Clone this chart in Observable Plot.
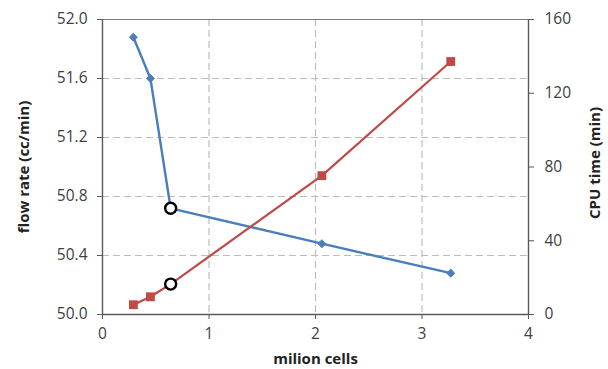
<!DOCTYPE html>
<html><head><meta charset="utf-8">
<script src="https://cdn.jsdelivr.net/npm/d3@7"></script>
<script src="https://cdn.jsdelivr.net/npm/@observablehq/plot@0.6"></script>
<style>body{margin:0;background:#fff}</style>
</head><body><div id="chart"></div>
<script>
const cells = [0.29, 0.45, 0.64, 2.06, 3.27];
const flowRate = [51.88, 51.60, 50.72, 50.48, 50.28];
const cpuTime = [5.3, 9.6, 16.5, 75.3, 137.2];
const highlightIndex = 2;
const xTicks = [0, 1, 2, 3, 4];
const flowTicks = [50.0, 50.4, 50.8, 51.2, 51.6, 52.0];
const cpuTicks = [0, 40, 80, 120, 160];
const xLabel = "milion cells";
const leftLabel = "flow rate (cc/min)";
const rightLabel = "CPU time (min)";

const flowMin = 50, flowMax = 52, cpuMax = 160;
const cpuToFlow = c => flowMin + c * (flowMax - flowMin) / cpuMax;
const flowToCpu = v => Math.round((v - flowMin) * cpuMax / (flowMax - flowMin));

const flowData = cells.map((x, i) => ({x, y: flowRate[i]}));
const cpuData = cells.map((x, i) => ({x, y: cpuToFlow(cpuTime[i])}));
const highlights = [flowData[highlightIndex], cpuData[highlightIndex]];

const blue = "#4a7ebb", red = "#be4b48", axisColor = "#595959", gridColor = "#bdbdbd";
const textColor = "#404040";

const chart = Plot.plot({
  width: 608, height: 369,
  marginLeft: 102, marginRight: 80, marginTop: 19, marginBottom: 55,
  style: {fontFamily: "'Open Sans', sans-serif", fontSize: "15.5px", color: textColor, background: "#fff"},
  x: {domain: [0, 4]},
  y: {domain: [flowMin, flowMax]},
  marks: [
    Plot.gridY(flowTicks.slice(1, -1), {stroke: gridColor, strokeOpacity: 1, strokeDasharray: "7,4", strokeWidth: 1.2}),
    Plot.gridX(xTicks.slice(1, -1), {stroke: gridColor, strokeOpacity: 1, strokeDasharray: "7,4", strokeWidth: 1.2}),
    Plot.ruleY([flowMax], {stroke: "#7a7a7a", strokeWidth: 1.2}),
    Plot.axisY({anchor: "left", ticks: flowTicks, tickFormat: d3.format(".1f"), tickSize: 5, tickPadding: 10, label: null, stroke: axisColor, fill: textColor}),
    Plot.axisY({anchor: "right", ticks: cpuTicks.map(cpuToFlow), tickFormat: flowToCpu, tickSize: 5, tickPadding: 11, label: null, stroke: axisColor, fill: textColor}),
    Plot.axisX({ticks: xTicks, tickFormat: d3.format("d"), tickSize: 5, tickPadding: 8, label: null, stroke: axisColor, fill: textColor}),
    Plot.ruleX([0], {stroke: axisColor, strokeWidth: 1.4}),
    Plot.ruleX([4], {stroke: axisColor, strokeWidth: 1.4}),
    Plot.ruleY([flowMin], {stroke: axisColor, strokeWidth: 1.4}),
    Plot.line(flowData, {x: "x", y: "y", stroke: blue, strokeWidth: 2.4}),
    Plot.dot(flowData, {x: "x", y: "y", symbol: "diamond2", r: 3.6, fill: blue, stroke: blue, strokeWidth: 1}),
    Plot.line(cpuData, {x: "x", y: "y", stroke: red, strokeWidth: 2.2}),
    Plot.dot(cpuData, {x: "x", y: "y", symbol: "square", r: 5, fill: red}),
    Plot.dot(highlights, {x: "x", y: "y", r: 5.5, fill: "white", stroke: "black", strokeWidth: 2.4}),
    Plot.text([leftLabel], {frameAnchor: "left", dx: -78, rotate: -90, textAnchor: "middle", lineAnchor: "middle", fontWeight: "bold", fontSize: 15, fill: "#222"}),
    Plot.text([rightLabel], {frameAnchor: "right", dx: 67, dy: -4, rotate: -90, textAnchor: "middle", lineAnchor: "middle", fontWeight: "bold", fontSize: 15, fill: "#222"}),
    Plot.text([xLabel], {frameAnchor: "bottom", dy: 45, textAnchor: "middle", lineAnchor: "middle", fontWeight: "bold", fontSize: 15, fill: "#222"})
  ]
});
document.getElementById("chart").append(chart);
</script>
</body></html>
